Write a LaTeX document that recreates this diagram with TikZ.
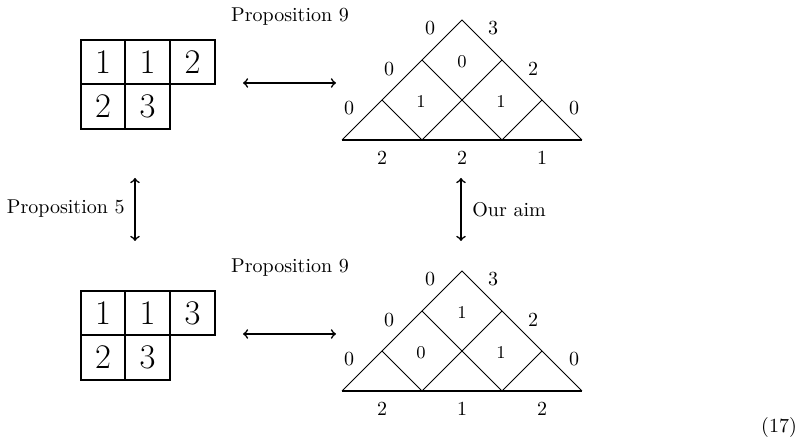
\documentclass[tikz,border=0pt]{standalone}
\begin{document}
\begin{tikzpicture}[x=0.5pt,y=-0.5pt,
  cell/.style={draw, line width=0.8pt, minimum size=22.25pt, inner sep=0pt, font=\LARGE},
  lab/.style={inner sep=0pt},
  inlab/.style={inner sep=0pt, font=\small},
  thinline/.style={line width=0.45pt},
  baseline/.style={line width=0.9pt},
  arr/.style={<->, line width=0.8pt}]
\useasboundingbox (0,0) rectangle (805,443);

% ---------- top row ----------
\node[cell] (t11) at (103,62) {1};
\node[cell] (t12) at (147.5,62) {1};
\node[cell] (t13) at (192.5,62) {2};
\node[cell] (t21) at (103,106.5) {2};
\node[cell] (t22) at (147.5,106.5) {3};

\node[lab] (tprop) at (290,17) {Proposition 9};
\coordinate (ta1) at (243,83);
\coordinate (ta2) at (336,83);
\draw[arr] (ta1) -- (ta2);

\begin{scope}
\coordinate (tL) at (342,140);
\coordinate (tR) at (582,140);
\coordinate (tA) at (462,20);
\coordinate (tB1) at (422,140);
\coordinate (tB2) at (502,140);
\coordinate (tl1) at (382,100);
\coordinate (tl2) at (422,60);
\coordinate (tr1) at (542,100);
\coordinate (tr2) at (502,60);
\draw[thinline] (tL) -- (tA) -- (tR);
\draw[thinline] (tB1) -- (tl1);
\draw[thinline] (tB1) -- (tr2);
\draw[thinline] (tB2) -- (tl2);
\draw[thinline] (tB2) -- (tr1);
\draw[baseline] (tL) -- (tR);
\node[lab] (te1) at (430,28) {0};
\node[lab] (te2) at (493,28) {3};
\node[lab] (te3) at (389,69) {0};
\node[lab] (te4) at (533,69) {2};
\node[lab] (te5) at (349,108) {0};
\node[lab] (te6) at (574,108) {0};
\node[lab] (tb1) at (382,158) {2};
\node[lab] (tb2) at (462,158) {2};
\node[lab] (tb3) at (542,158) {1};
\node[inlab] (ti1) at (462,62) {0};
\node[inlab] (ti2) at (421,102) {1};
\node[inlab] (ti3) at (501,102) {1};
\end{scope}

% ---------- vertical arrows ----------
\coordinate (va1) at (135,178);
\coordinate (va2) at (135,241);
\draw[arr] (va1) -- (va2);
\node[lab, anchor=east] (p5) at (125,209) {Proposition 5};
\coordinate (vb1) at (461,178);
\coordinate (vb2) at (461,241);
\draw[arr] (vb1) -- (vb2);
\node[lab, anchor=west] (aim) at (472,210) {Our aim};

% ---------- bottom row ----------
\node[cell] (b11) at (103,313) {1};
\node[cell] (b12) at (147.5,313) {1};
\node[cell] (b13) at (192.5,313) {3};
\node[cell] (b21) at (103,357.5) {2};
\node[cell] (b22) at (147.5,357.5) {3};

\node[lab] (bprop) at (290,268) {Proposition 9};
\coordinate (ba1) at (243,334);
\coordinate (ba2) at (336,334);
\draw[arr] (ba1) -- (ba2);

\begin{scope}[shift={(0,251)}]
\coordinate (bL) at (342,140);
\coordinate (bR) at (582,140);
\coordinate (bA) at (462,20);
\coordinate (bB1) at (422,140);
\coordinate (bB2) at (502,140);
\coordinate (bl1) at (382,100);
\coordinate (bl2) at (422,60);
\coordinate (br1) at (542,100);
\coordinate (br2) at (502,60);
\draw[thinline] (bL) -- (bA) -- (bR);
\draw[thinline] (bB1) -- (bl1);
\draw[thinline] (bB1) -- (br2);
\draw[thinline] (bB2) -- (bl2);
\draw[thinline] (bB2) -- (br1);
\draw[baseline] (bL) -- (bR);
\node[lab] (be1) at (430,28) {0};
\node[lab] (be2) at (493,28) {3};
\node[lab] (be3) at (389,69) {0};
\node[lab] (be4) at (533,69) {2};
\node[lab] (be5) at (349,108) {0};
\node[lab] (be6) at (574,108) {0};
\node[lab] (bb1) at (382,158) {2};
\node[lab] (bb2) at (462,158) {1};
\node[lab] (bb3) at (542,158) {2};
\node[inlab] (bi1) at (462,62) {1};
\node[inlab] (bi2) at (421,102) {0};
\node[inlab] (bi3) at (501,102) {1};
\end{scope}

\node[lab] (eqn) at (779,428) {(17)};
\end{tikzpicture}
\end{document}
